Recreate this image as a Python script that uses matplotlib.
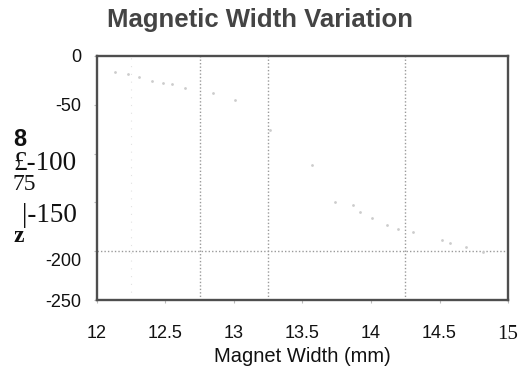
import matplotlib
matplotlib.use("Agg")
import matplotlib.pyplot as plt
from matplotlib.transforms import ScaledTranslation

# Magnet width (mm) versus measured response
width_mm = [12.13, 12.23, 12.31, 12.40, 12.48, 12.55, 12.64, 12.85, 13.01,
            13.26, 13.57, 13.74, 13.87, 13.92, 14.01, 14.12, 14.20, 14.31,
            14.52, 14.58, 14.69, 14.82]
response = [-16.4, -18.4, -21.5, -25.6, -27.7, -28.7, -32.8, -37.9, -45.1,
            -75.8, -111.7, -149.6, -152.7, -159.8, -166.0, -173.2, -177.3,
            -180.3, -188.5, -191.6, -195.7, -200.8]

x_ticks = [12, 12.5, 13, 13.5, 14, 14.5, 15]
x_tick_labels = ["12", "12.5", "13", "13.5", "14", "14.5", "15"]
y_ticks = [0, -50, -100, -150, -200, -250]
y_tick_labels = ["0", "-50", "\u00a3-100", "|-150", "-200", "-250"]
v_grid = [12.75, 13.25, 14.25]
v_grid_faint = [12.25]
h_grid = [-200]

plt.rcParams["font.family"] = ["Liberation Sans", "DejaVu Sans"]

fig = plt.figure(figsize=(5.24, 3.66), dpi=100)
ax = fig.add_axes([0.185, 0.180, 0.7845, 0.667])

ax.set_xlim(12, 15)
ax.set_ylim(-250, 0)

for xv in v_grid:
    ax.axvline(xv, color="#9a9a9a", lw=1.0, ls=(0, (1, 1.5)), zorder=1)
for xv in v_grid_faint:
    ax.axvline(xv, color="#e2e2e2", lw=0.8, ls=(0, (1, 6)), zorder=1)
for yv in h_grid:
    ax.axhline(yv, color="#9a9a9a", lw=1.0, ls=(0, (1, 1.5)), zorder=1)

ax.plot(width_mm, response, ls="none", marker="o", ms=2.0,
        color="#cccccc", mec="none", zorder=2)

for s in ax.spines.values():
    s.set_color("#4e4e4e")
    s.set_linewidth(1.7)

ax.set_xticks(x_ticks)
ax.set_xticklabels(x_tick_labels)
ax.set_yticks(y_ticks)
ax.set_yticklabels(y_tick_labels)
ax.tick_params(axis="both", length=2, width=0.8, color="#bbbbbb",
               labelsize=13, labelcolor="#111111")
ax.tick_params(axis="x", pad=16)
ax.tick_params(axis="y", pad=9)

xl = ax.get_xticklabels()
xl[-1].set_family("Liberation Serif")
xl[-1].set_fontsize(15)

pt = fig.dpi_scale_trans
yl = ax.get_yticklabels()
for lab, dy in ((yl[2], -7), (yl[3], -10)):
    lab.set_family("Liberation Serif")
    lab.set_fontsize(19.5)
    lab.set_transform(lab.get_transform() + ScaledTranslation(-5 / 100, dy / 100, pt))
yl[4].set_transform(yl[4].get_transform() + ScaledTranslation(0, -8 / 100, pt))

ax.set_xlabel("Magnet Width (mm)", fontsize=14.5, color="#111111", labelpad=2)

# Stray glyphs in the left margin
fig.text(13 / 524, 1 - 139 / 366, "8", weight="bold",
         fontsize=17, ha="left", va="center", color="#111111")
fig.text(12 / 524, 1 - 185 / 366, "75", family="Liberation Serif",
         fontsize=17, ha="left", va="center", color="#111111")
fig.text(13 / 524, 1 - 236 / 366, "z", family="Liberation Serif", weight="bold",
         fontsize=17, ha="left", va="center", color="#111111")

fig.text(260 / 524, 1 - 20 / 366, "Magnetic Width Variation", fontsize=18.5,
         weight="bold", color="#444444", ha="center", va="center")

fig.savefig("out.png", dpi=100, facecolor="white")
